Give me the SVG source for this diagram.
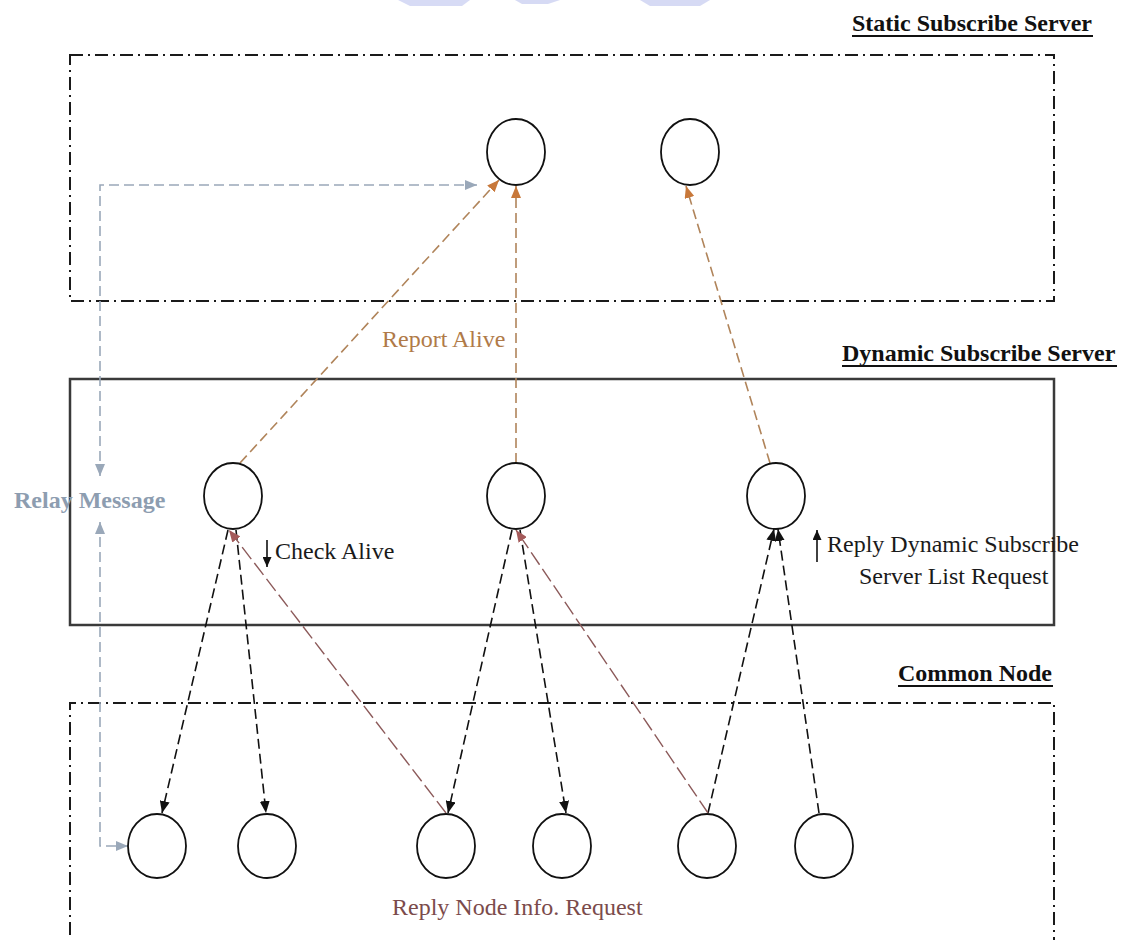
<svg xmlns="http://www.w3.org/2000/svg" width="1126" height="940" viewBox="0 0 1126 940">
  <style>
    .zone { fill: none; stroke: #1a1a1a; stroke-width: 2; stroke-dasharray: 13 5 2 5; }
    .zone-solid { fill: none; stroke: #3a3a3a; stroke-width: 2.5; }
    .node { fill: #ffffff; stroke: #111111; stroke-width: 1.8; }
    .head { font-family: "Liberation Serif", "Times New Roman", serif; font-size: 24px; font-weight: bold; fill: #111111; }
    .label { font-family: "Liberation Serif", "Times New Roman", serif; font-size: 24px; fill: #1a1a1a; }
    .uline { stroke: #111111; stroke-width: 2; }
    .check { fill: none; stroke: #111111; stroke-width: 1.6; stroke-dasharray: 10 5; marker-end: url(#ah-black); }
    .report { fill: none; stroke: #b0845a; stroke-width: 1.6; stroke-dasharray: 10 5; marker-end: url(#ah-orange); }
    .reply { fill: none; stroke: #8c5a5a; stroke-width: 1.4; stroke-dasharray: 15 5; marker-end: url(#ah-brown); }
    .relay { fill: none; stroke: #9aa8b9; stroke-width: 1.6; stroke-dasharray: 10 5; marker-start: url(#ah-blue); marker-end: url(#ah-blue); }
  </style>
  <defs>
    <marker id="ah-black" markerUnits="userSpaceOnUse" markerWidth="12" markerHeight="10" refX="12" refY="5" orient="auto-start-reverse">
      <path d="M0,0 L12,5 L0,10 z" fill="#111111"/>
    </marker>
    <marker id="ah-orange" markerUnits="userSpaceOnUse" markerWidth="12" markerHeight="10" refX="12" refY="5" orient="auto-start-reverse">
      <path d="M0,0 L12,5 L0,10 z" fill="#c8783a"/>
    </marker>
    <marker id="ah-brown" markerUnits="userSpaceOnUse" markerWidth="12" markerHeight="10" refX="12" refY="5" orient="auto-start-reverse">
      <path d="M0,0 L12,5 L0,10 z" fill="#a45a5a"/>
    </marker>
    <marker id="ah-blue" markerUnits="userSpaceOnUse" markerWidth="12" markerHeight="10" refX="12" refY="5" orient="auto-start-reverse">
      <path d="M0,0 L12,5 L0,10 z" fill="#9aa8b9"/>
    </marker>
    <marker id="ah-small" markerUnits="userSpaceOnUse" markerWidth="10" markerHeight="9" refX="10" refY="4.5" orient="auto">
      <path d="M0,0 L10,4.5 L0,9 z" fill="#111111"/>
    </marker>
  </defs>

  <rect width="1126" height="940" fill="#ffffff"/>

  <!-- faint emblem cut off at the top edge -->
  <g id="emblem" fill="#cdd2f2" opacity="0.8">
    <path d="M398,0 L470,0 L462,6 L410,6 z"/>
    <path d="M515,0 L560,0 L548,4 L522,4 z"/>
    <path d="M640,0 L710,0 L700,6 L650,6 z"/>
  </g>

  <!-- zones -->
  <g id="static-server-zone">
    <rect class="zone" x="70" y="55" width="984" height="246"/>
    <text class="head" x="852" y="31">Static Subscribe Server</text>
    <line class="uline" x1="852" y1="36" x2="1093" y2="36"/>
  </g>
  <g id="dynamic-server-zone">
    <rect class="zone-solid" x="70" y="379" width="984" height="246"/>
    <text class="head" x="842" y="361">Dynamic Subscribe Server</text>
    <line class="uline" x1="842" y1="366" x2="1117" y2="366"/>
  </g>
  <g id="common-node-zone">
    <path class="zone" d="M70,960 V703 H1054 V960"/>
    <text class="head" x="898" y="681">Common Node</text>
    <line class="uline" x1="898" y1="686" x2="1053" y2="686"/>
  </g>

  <!-- connectors -->
  <g id="connectors">
    <!-- relay message -->
    <path class="relay" d="M100,476 V185 H477"/>
    <path class="relay" d="M100,522 V846 H128"/>
    <!-- report alive -->
    <line class="report" x1="240" y1="463" x2="499" y2="180"/>
    <line class="report" x1="516" y1="463" x2="516" y2="186"/>
    <line class="report" x1="770" y1="463" x2="686" y2="186"/>
    <!-- check alive -->
    <line class="check" x1="228" y1="530" x2="162" y2="813"/>
    <line class="check" x1="236" y1="530" x2="266" y2="813"/>
    <line class="check" x1="512" y1="530" x2="448" y2="813"/>
    <line class="check" x1="520" y1="530" x2="566" y2="813"/>
    <!-- reply dynamic subscribe server list request -->
    <line class="check" x1="708" y1="813" x2="774" y2="529"/>
    <line class="check" x1="819" y1="813" x2="778" y2="529"/>
    <!-- reply node info. request -->
    <line class="reply" x1="446" y1="813" x2="229" y2="530"/>
    <line class="reply" x1="708" y1="813" x2="516" y2="530"/>
  </g>

  <!-- static subscribe servers -->
  <g id="static-1"><ellipse class="node" cx="516" cy="152" rx="29" ry="33"/></g>
  <g id="static-2"><ellipse class="node" cx="690" cy="152" rx="29" ry="33"/></g>

  <!-- dynamic subscribe servers -->
  <g id="dynamic-1"><ellipse class="node" cx="233" cy="496" rx="29" ry="33"/></g>
  <g id="dynamic-2"><ellipse class="node" cx="516" cy="496" rx="29" ry="33"/></g>
  <g id="dynamic-3"><ellipse class="node" cx="776" cy="496" rx="29" ry="33"/></g>

  <!-- common nodes -->
  <g id="common-1"><ellipse class="node" cx="157" cy="846" rx="29" ry="32"/></g>
  <g id="common-2"><ellipse class="node" cx="267" cy="846" rx="29" ry="32"/></g>
  <g id="common-3"><ellipse class="node" cx="446" cy="846" rx="29" ry="32"/></g>
  <g id="common-4"><ellipse class="node" cx="562" cy="846" rx="29" ry="32"/></g>
  <g id="common-5"><ellipse class="node" cx="707" cy="846" rx="29" ry="32"/></g>
  <g id="common-6"><ellipse class="node" cx="824" cy="846" rx="29" ry="32"/></g>

  <!-- labels -->
  <g id="labels">
    <text class="label" x="382" y="347" fill="#b07a48" style="fill:#b07a48">Report Alive</text>
    <text class="label" x="14" y="508" style="fill:#8d9db0;font-weight:bold">Relay Message</text>
    <line x1="267" y1="540" x2="267" y2="567" stroke="#111111" stroke-width="1.6" marker-end="url(#ah-small)"/>
    <text class="label" x="275" y="559">Check Alive</text>
    <line x1="817" y1="562" x2="817" y2="530" stroke="#111111" stroke-width="1.6" marker-end="url(#ah-small)"/>
    <text class="label" x="827" y="552">Reply Dynamic Subscribe</text>
    <text class="label" x="859" y="584">Server List Request</text>
    <text class="label" x="392" y="915" style="fill:#7b4b4b">Reply Node Info. Request</text>
  </g>
</svg>
